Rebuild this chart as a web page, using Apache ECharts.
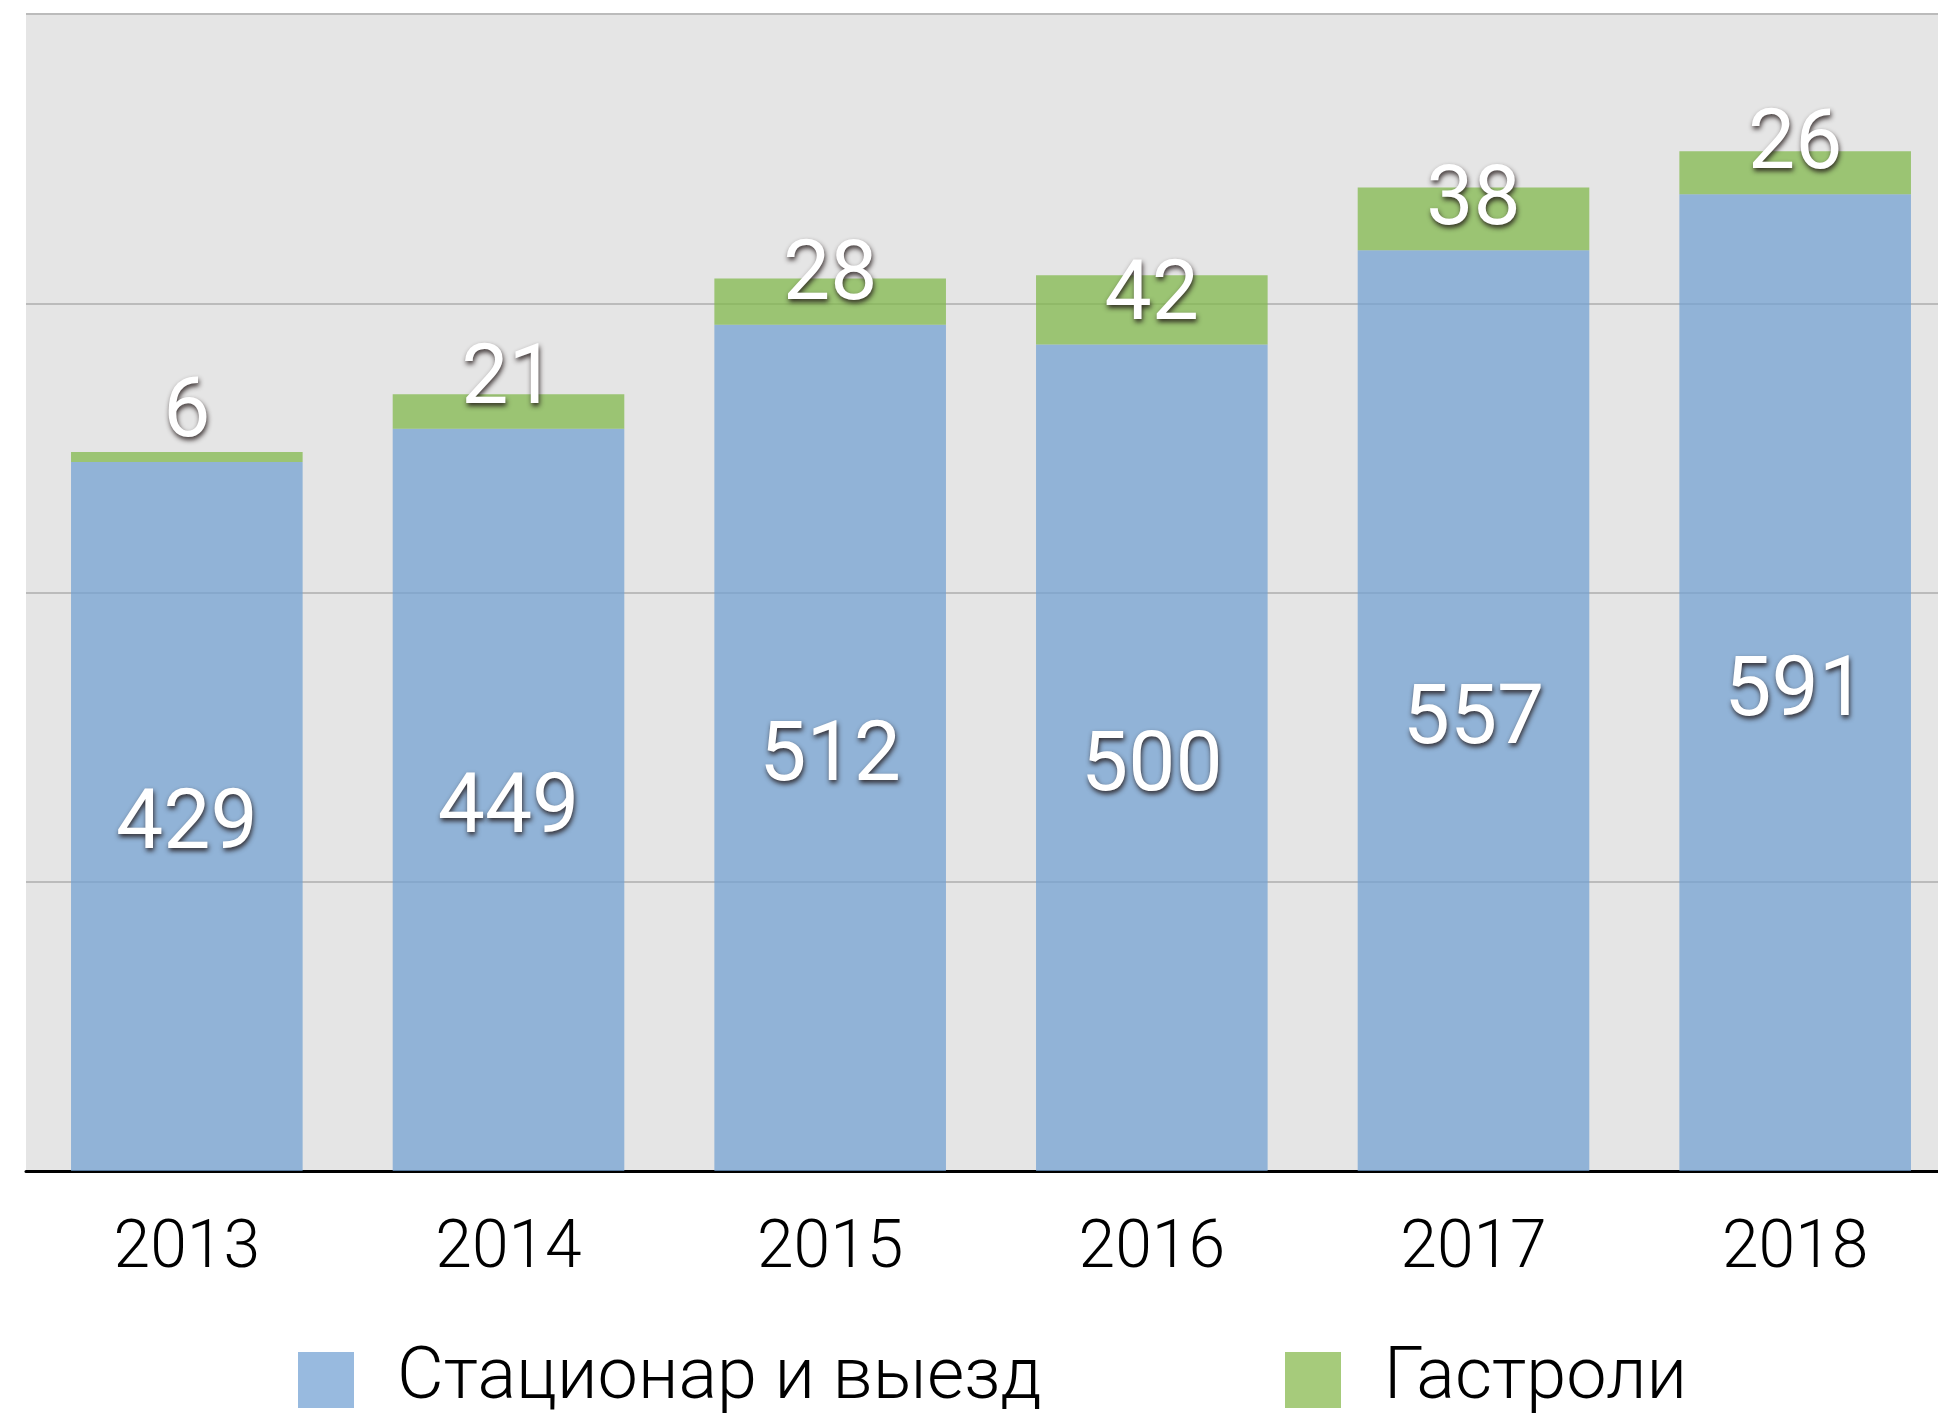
<!DOCTYPE html>
<html>
<head>
<meta charset="utf-8">
<script src="https://cdn.jsdelivr.net/npm/echarts@6/dist/echarts.min.js"></script>
<style>
html,body{margin:0;padding:0;background:#fff;overflow:hidden;}
#chart{width:1956px;height:1415px;}
</style>
</head>
<body>
<div id="chart"></div>
<script>
const categories = ['2013', '2014', '2015', '2016', '2017', '2018'];
const seriesNames = ['Стационар и выезд', 'Гастроли'];
const stationary = [429, 449, 512, 500, 557, 591];
const tours = [6, 21, 28, 42, 38, 26];
const yMax = 700;
const yInterval = 175;

const FONT = 'Roboto, "Liberation Sans", sans-serif';
const labelStyle = {
  show: true,
  color: '#ffffff',
  fontFamily: FONT,
  fontSize: 84,
  fontWeight: 400,
  textShadowColor: 'rgba(30,20,20,0.85)',
  textShadowBlur: 5,
  textShadowOffsetX: 1,
  textShadowOffsetY: 3
};

const chart = echarts.init(document.getElementById('chart'));
chart.setOption({
  animation: false,
  backgroundColor: '#ffffff',
  grid: {
    left: 26, right: 0, top: 14, bottom: 244,
    show: true, backgroundColor: '#e5e5e5', borderWidth: 0,
    containLabel: false
  },
  legend: [
    {
      data: [seriesNames[0]],
      left: 298, top: 1344, padding: 0,
      itemWidth: 56, itemHeight: 56, icon: 'rect',
      itemStyle: { color: '#98badf' },
      textStyle: { fontFamily: FONT, fontSize: 72, fontWeight: 300, color: '#000', padding: [0, 0, 0, 38] }
    },
    {
      data: [seriesNames[1]],
      left: 1285, top: 1344, padding: 0,
      itemWidth: 56, itemHeight: 56, icon: 'rect',
      itemStyle: { color: '#a6cb7b' },
      textStyle: { fontFamily: FONT, fontSize: 72, fontWeight: 300, color: '#000', padding: [0, 0, 0, 38] }
    }
  ],
  xAxis: {
    type: 'category',
    data: categories,
    axisLine: { show: true, lineStyle: { color: '#000', width: 3 } },
    axisTick: { show: false },
    axisLabel: { fontFamily: FONT, fontSize: 66, fontWeight: 300, color: '#000', margin: 46 },
    splitLine: { show: false }
  },
  yAxis: {
    type: 'value',
    min: 0, max: yMax, interval: yInterval,
    axisLine: { show: false },
    axisTick: { show: false },
    axisLabel: { show: false },
    splitLine: { show: true, lineStyle: { color: '#bbbbbb', width: 2 } }
  },
  series: [
    {
      name: seriesNames[0],
      type: 'bar',
      stack: 'total',
      data: stationary,
      barCategoryGap: '28%',
      itemStyle: { color: 'rgba(114,160,210,0.73)' },
      label: Object.assign({ position: 'inside', offset: [0, 11] }, labelStyle)
    },
    {
      name: seriesNames[1],
      type: 'bar',
      stack: 'total',
      data: tours,
      barCategoryGap: '28%',
      itemStyle: { color: 'rgba(128,184,72,0.73)' },
      label: Object.assign({ position: 'insideBottom', distance: 5 }, labelStyle)
    }
  ]
});
</script>
</body>
</html>
